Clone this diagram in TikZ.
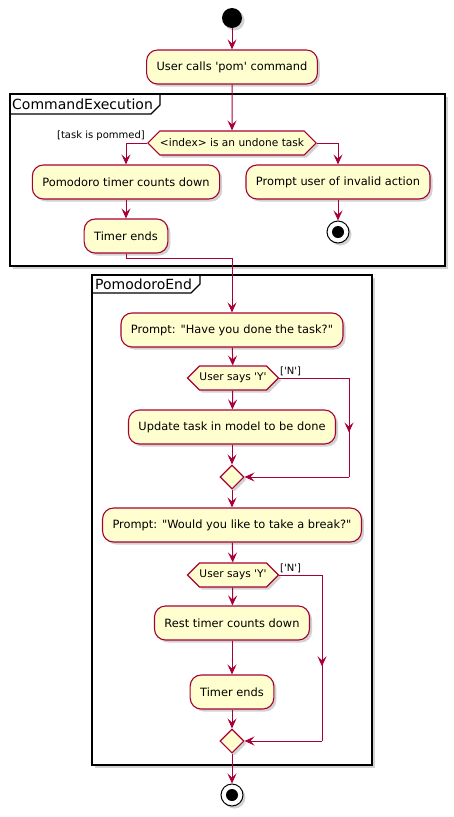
\documentclass[tikz,border=0pt]{standalone}
\usepackage{fontspec}
\setmainfont{DejaVu Sans}[Ligatures=TeXOff]
\usetikzlibrary{arrows.meta,shapes.geometric,shapes.symbols,shadows,decorations.markings}
\definecolor{UmlBorder}{HTML}{A80036}
\definecolor{UmlFill}{HTML}{FEFECE}

\tikzset{
  umlshadow/.style={drop shadow={shadow xshift=2.5pt,shadow yshift=-2.5pt,opacity=0.25,fill=black!70}},
  act/.style={rectangle,rounded corners=11pt,draw=UmlBorder,fill=UmlFill,
              line width=1.1pt,minimum height=34pt,inner xsep=10pt,
              font=\fontsize{11.4}{13}\selectfont,umlshadow},
  decide/.style={signal,signal to=west and east,signal pointer angle=90,
                 draw=UmlBorder,fill=UmlFill,line width=1.1pt,minimum height=24pt,
                 inner xsep=0pt,inner ysep=2pt,font=\fontsize{10.6}{12}\selectfont,umlshadow},
  merge/.style={diamond,draw=UmlBorder,fill=UmlFill,line width=1.1pt,
                minimum size=24pt,inner sep=0pt,umlshadow},
  startdot/.style={circle,fill=black,minimum size=20pt,inner sep=0pt,umlshadow},
  enddot/.style={circle,draw=black,fill=white,line width=1pt,minimum size=22pt,inner sep=0pt,
                 umlshadow,path picture={\fill[black] (path picture bounding box.center) circle (6pt);}},
  guard/.style={font=\fontsize{10}{12}\selectfont,inner sep=1pt},
  link/.style={draw=UmlBorder,line width=1pt},
  flow/.style={link,-{Stealth[length=10pt,width=9pt,inset=4pt]}},
  midarrow/.style={postaction={decorate},decoration={markings,
                   mark=at position 0.55 with {\arrow{Stealth[length=10pt,width=9pt,inset=4pt]}}}},
  frame/.style={draw=black,line width=1.6pt,umlshadow},
  tab/.style={font=\fontsize{14}{16}\selectfont,inner sep=0pt,anchor=west}
}

\begin{document}
\begin{tikzpicture}[x=1pt,y=-1pt]
  \useasboundingbox (0,0) rectangle (454,817);

  % frames
  \fill[white,frame] (10,94) rectangle (445,266);
  \draw[line width=1.2pt] (10,114) -- (151,114) -- (160,105) -- (160,94);
  \node[tab] (cmdexec) at (12,104) {CommandExecution};
  \fill[white,frame] (92,275) rectangle (372,765);
  \draw[line width=1.2pt] (92,293) -- (191,293) -- (200,284) -- (200,275);
  \node[tab] (pomend) at (95,284) {PomodoroEnd};

  % CommandExecution
  \node[startdot] (start) at (232,18) {};
  \node[act] (call) at (232,67) {User calls 'pom' command};
  \node[decide] (check) at (232,143) {<index> is an undone task};
  \node[act] (pomo) at (126,182) {Pomodoro timer counts down};
  \node[act] (invalid) at (338,182) {Prompt user of invalid action};
  \node[enddot] (stopA) at (338,232) {};
  \node[act] (ended) at (126,236) {Timer ends};
  \node[guard,anchor=south east] (pommed) at (146,142) {[task is pommed]};

  \draw[flow] (start) -- (call);
  \draw[flow] (call) -- (check);
  \draw[flow] (check.west) -| (pomo);
  \draw[flow] (check.east) -| (invalid);
  \draw[flow] (invalid) -- (stopA);
  \draw[flow] (pomo) -- (ended);

  % PomodoroEnd
  \node[act] (askdone) at (232,330) {Prompt: "Have you done the task?"};
  \node[decide] (sayY) at (233,378) {User says 'Y'};
  \node[act] (update) at (232,427) {Update task in model to be done};
  \node[merge] (mergeA) at (232,477) {};
  \node[act] (askbreak) at (232,525) {Prompt: "Would you like to take a break?"};
  \node[decide] (sayYb) at (233,575) {User says 'Y'};
  \node[act] (rest) at (232,623) {Rest timer counts down};
  \node[act] (restend) at (232,692) {Timer ends};
  \node[merge] (mergeB) at (232,741) {};
  \node[enddot] (stopB) at (232,795) {};
  \node[guard,anchor=south west] (noA) at (279,377) {['N']};
  \node[guard,anchor=south west] (noB) at (279,574) {['N']};
  \coordinate (nAtop) at (349,378);
  \coordinate (nAbot) at (349,477);
  \coordinate (nBtop) at (322,575);
  \coordinate (nBbot) at (322,741);

  \draw[flow] (ended.south) -- ++(0,5) -| (askdone.north);
  \draw[flow] (askdone) -- (sayY);
  \draw[flow] (sayY) -- (update);
  \draw[flow] (update) -- (mergeA);
  \draw[link] (sayY.east) -- (nAtop);
  \draw[link,midarrow] (nAtop) -- (nAbot);
  \draw[flow] (nAbot) -- (mergeA.east);
  \draw[flow] (mergeA) -- (askbreak);
  \draw[flow] (askbreak) -- (sayYb);
  \draw[flow] (sayYb) -- (rest);
  \draw[flow] (rest) -- (restend);
  \draw[flow] (restend) -- (mergeB);
  \draw[link] (sayYb.east) -- (nBtop);
  \draw[link,midarrow] (nBtop) -- (nBbot);
  \draw[flow] (nBbot) -- (mergeB.east);
  \draw[flow] (mergeB) -- (stopB);
\end{tikzpicture}
\end{document}
